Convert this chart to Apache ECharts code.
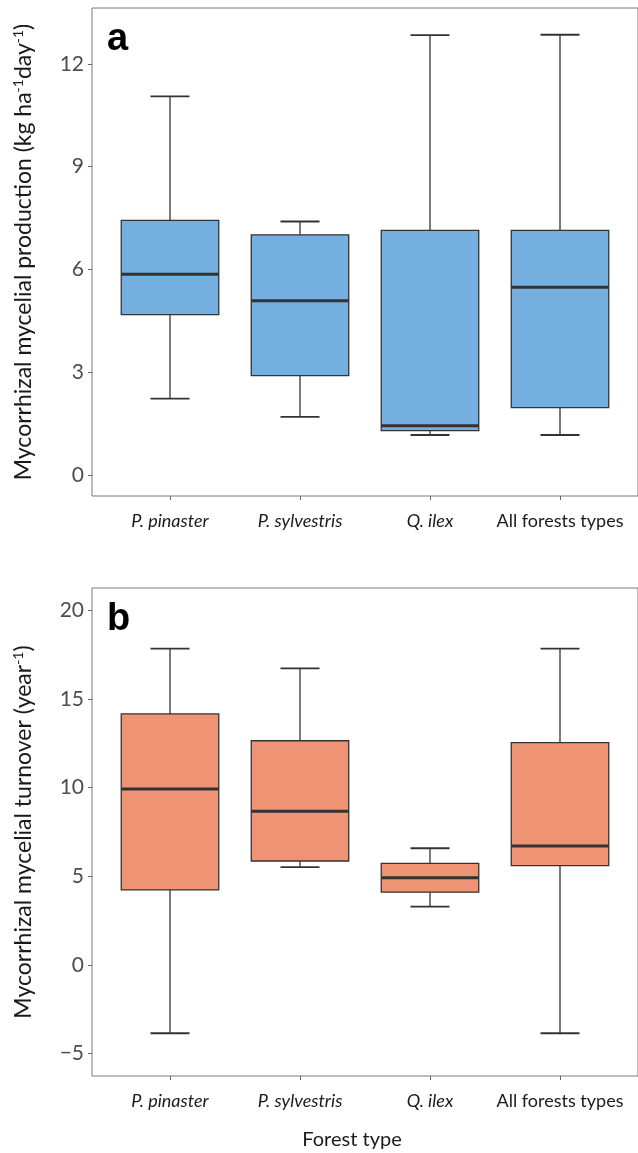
<!DOCTYPE html>
<html>
<head>
<meta charset="utf-8">
<script src="https://cdn.jsdelivr.net/npm/echarts@6/dist/echarts.min.js"></script>
<style>
  html, body { margin: 0; padding: 0; background: #fff; }
  #chart { width: 638px; height: 1153px; }
</style>
</head>
<body>
<div id="chart"></div>
<script>
// Forest types (x positions 1..4)
const forestTypes = ['P. pinaster', 'P. sylvestris', 'Q. ilex', 'All forests types'];
const italicTypes = [true, true, true, false];

// Panel a: mycorrhizal mycelial production (kg ha-1 day-1)
const prodLow  = [2.23, 1.70, 1.17, 1.17];
const prodQ1   = [4.68, 2.90, 1.30, 1.97];
const prodMed  = [5.86, 5.09, 1.44, 5.48];
const prodQ3   = [7.43, 7.01, 7.14, 7.14];
const prodHigh = [11.05, 7.40, 12.84, 12.85];
const prodTicks = [0, 3, 6, 9, 12];

// Panel b: mycorrhizal mycelial turnover (year-1)
const turnLow  = [-3.85, 5.51, 3.29, -3.85];
const turnQ1   = [4.23, 5.86, 4.10, 5.60];
const turnMed  = [9.92, 8.66, 4.92, 6.71];
const turnQ3   = [14.15, 12.64, 5.73, 12.53];
const turnHigh = [17.83, 16.72, 6.58, 17.83];
const turnTicks = [-5, 0, 5, 10, 15, 20];

const FONT = "Lato, 'Open Sans', sans-serif";
const LETTER_FONT = "'Liberation Sans', Arial, sans-serif";
const positions = [1, 2, 3, 4];

function boxRows(low, q1, med, q3, high) {
  return positions.map((p, i) => [p, low[i], q1[i], med[i], q3[i], high[i]]);
}

// Box: Q1-Q3 rectangle, thick median bar, whiskers with end caps
function renderBox(fill) {
  return function (params, api) {
    const x = api.value(0);
    const pLow = api.coord([x, api.value(1)]);
    const pQ1 = api.coord([x, api.value(2)]);
    const pMed = api.coord([x, api.value(3)]);
    const pQ3 = api.coord([x, api.value(4)]);
    const pHigh = api.coord([x, api.value(5)]);
    const boxHalf = api.size([0.75, 0])[0] / 2;
    const capHalf = api.size([0.3, 0])[0] / 2;
    const cx = pMed[0];
    const dark = '#333333';
    return {
      type: 'group',
      children: [
        { type: 'line', shape: { x1: cx, y1: pHigh[1], x2: cx, y2: pQ3[1] }, style: { stroke: dark, lineWidth: 1.3 } },
        { type: 'line', shape: { x1: cx, y1: pQ1[1], x2: cx, y2: pLow[1] }, style: { stroke: dark, lineWidth: 1.3 } },
        { type: 'line', shape: { x1: cx - capHalf, y1: pHigh[1], x2: cx + capHalf, y2: pHigh[1] }, style: { stroke: dark, lineWidth: 1.8 } },
        { type: 'line', shape: { x1: cx - capHalf, y1: pLow[1], x2: cx + capHalf, y2: pLow[1] }, style: { stroke: dark, lineWidth: 1.8 } },
        { type: 'rect', shape: { x: cx - boxHalf, y: pQ3[1], width: boxHalf * 2, height: pQ1[1] - pQ3[1] },
          style: { fill: fill, stroke: dark, lineWidth: 1.3 } },
        { type: 'line', shape: { x1: cx - boxHalf, y1: pMed[1], x2: cx + boxHalf, y2: pMed[1] }, style: { stroke: dark, lineWidth: 3 } }
      ]
    };
  };
}

function xAxisFor(gridIndex) {
  return {
    type: 'value', gridIndex: gridIndex, min: 0.4, max: 4.6,
    axisLine: { show: false, onZero: false },
    splitLine: { show: false },
    axisTick: { show: true, length: 4, lineStyle: { color: '#666' }, customValues: positions },
    axisLabel: {
      customValues: positions, margin: 16,
      formatter: v => {
        const i = Math.round(v) - 1;
        return (italicTypes[i] ? '{i|' : '{n|') + forestTypes[i] + '}';
      },
      rich: {
        i: { fontFamily: FONT, fontSize: 18, fontStyle: 'italic', color: '#1a1a1a' },
        n: { fontFamily: FONT, fontSize: 18, color: '#1a1a1a' }
      }
    }
  };
}

function yAxisFor(gridIndex, min, max, ticks, name) {
  return {
    type: 'value', gridIndex: gridIndex, min: min, max: max,
    name: name, nameLocation: 'middle', nameRotate: 90, nameGap: 56,
    nameTextStyle: {
      fontFamily: FONT, fontSize: 23, color: '#1a1a1a',
      rich: { s: { fontFamily: FONT, fontSize: 14, color: '#1a1a1a', padding: [0, 0, 11, 0] } }
    },
    axisLine: { show: false },
    splitLine: { show: false },
    axisTick: { show: true, length: 4, lineStyle: { color: '#666' }, customValues: ticks },
    axisLabel: {
      customValues: ticks, margin: 8,
      fontFamily: FONT, fontSize: 21, color: '#4d4d4d',
      formatter: v => String(v).replace('-', '\u2212')
    }
  };
}

const chart = echarts.init(document.getElementById('chart'), null, { renderer: 'canvas' });
chart.setOption({
  backgroundColor: '#ffffff',
  animation: false,
  grid: [
    { left: 92, top: 8, right: -7, height: 488, show: true, borderColor: '#7a7a7a', borderWidth: 1, backgroundColor: 'transparent' },
    { left: 92, top: 588, right: -7, height: 488, show: true, borderColor: '#7a7a7a', borderWidth: 1, backgroundColor: 'transparent' }
  ],
  xAxis: [xAxisFor(0), xAxisFor(1)],
  yAxis: [
    yAxisFor(0, -0.61, 13.63, prodTicks, 'Mycorrhizal mycelial production (kg ha{s|-1}day{s|-1})'),
    yAxisFor(1, -6.26, 21.25, turnTicks, 'Mycorrhizal mycelial turnover (year{s|-1})')
  ],
  graphic: [
    { type: 'text', x: 107, y: 40, style: { text: 'a', fontFamily: LETTER_FONT, fontWeight: 'bold', fontSize: 38, fill: '#000', align: 'left', verticalAlign: 'middle' } },
    { type: 'text', x: 107, y: 620, style: { text: 'b', fontFamily: LETTER_FONT, fontWeight: 'bold', fontSize: 38, fill: '#000', align: 'left', verticalAlign: 'middle' } },
    { type: 'text', x: 352, y: 1140, style: { text: 'Forest type', fontFamily: FONT, fontSize: 20, fill: '#1a1a1a', align: 'center', verticalAlign: 'middle' } }
  ],
  series: [
    {
      type: 'custom', xAxisIndex: 0, yAxisIndex: 0,
      data: boxRows(prodLow, prodQ1, prodMed, prodQ3, prodHigh),
      encode: { x: 0, y: [1, 2, 3, 4, 5] },
      renderItem: renderBox('#74afdf')
    },
    {
      type: 'custom', xAxisIndex: 1, yAxisIndex: 1,
      data: boxRows(turnLow, turnQ1, turnMed, turnQ3, turnHigh),
      encode: { x: 0, y: [1, 2, 3, 4, 5] },
      renderItem: renderBox('#ee9474')
    }
  ]
});
</script>
</body>
</html>
